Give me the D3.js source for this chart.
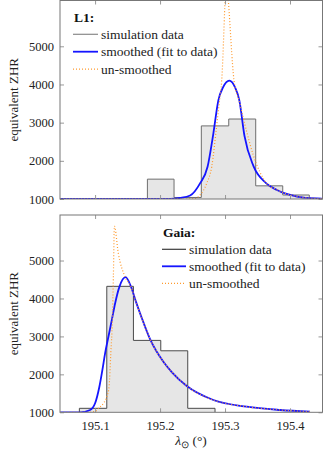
<!DOCTYPE html>
<html>
<head>
<meta charset="utf-8">
<script src="https://cdn.jsdelivr.net/npm/d3@7"></script>
<style>
  body { margin: 0; background: #fff; }
  svg text { font-family: "Liberation Serif", "Times New Roman", Times, serif; }
</style>
</head>
<body>
<div id="chart"></div>
<script>
// shared axes
const xDomain = [195.046, 195.45];
const yDomain = [1000, 6200];
const xTicks = [195.1, 195.2, 195.3, 195.4];
const yTicks = [1000, 2000, 3000, 4000, 5000];
const legendLabels = ["simulation data", "smoothed (fit to data)", "un-smoothed"];

// L1 panel
const l1Edges = [195.1805, 195.2215, 195.2635, 195.3057, 195.3472, 195.3888, 195.4297];
const l1Counts = [1520, 1040, 2915, 3095, 1345, 1105];
const l1SmoothX = [195.0462, 195.2154, 195.2308, 195.2462, 195.2615, 195.2731, 195.2820, 195.2897, 195.2969, 195.3066,
  195.3154, 195.3220, 195.3300, 195.3438, 195.3631, 195.3800, 195.4108, 195.4415, 195.4490];
const l1SmoothY = [1000, 1000, 1026, 1091, 1410, 1843, 2715, 3585, 3924, 4099,
  3924, 3585, 2645, 1862, 1418, 1235, 1065, 1013, 1008];
const l1RawX = [195.0462, 195.2385, 195.2538, 195.2615, 195.2718, 195.2795, 195.2872, 195.2915, 195.2949, 195.3000,
  195.3018, 195.3051, 195.3138, 195.3215, 195.3308, 195.3435, 195.3631, 195.3800, 195.4108, 195.4415, 195.4490];
const l1RawY = [1000, 1000, 1013, 1104, 1410, 1843, 2932, 3585, 4107, 6196,
  6950, 6196, 4107, 3585, 2932, 2149, 1430, 1240, 1066, 1013, 1008];

// Gaia panel
const gaiaEdges = [195.0758, 195.1180, 195.1590, 195.2011, 195.2426, 195.2846];
const gaiaCounts = [1105, 4320, 2895, 2621, 1105];
const gaiaSmoothX = [195.0462, 195.0769, 195.0923, 195.1000, 195.1066, 195.1112, 195.1154, 195.1205, 195.1257, 195.1308,
  195.1374, 195.1469, 195.1554, 195.1631, 195.1708, 195.1846, 195.2051, 195.2180, 195.2411, 195.2820,
  195.3334, 195.3846, 195.4308];
const gaiaSmoothY = [1000, 1000, 1061, 1237, 1674, 2113, 2553, 2990, 3429, 3869,
  4306, 4561, 4306, 3903, 3535, 2929, 2332, 2061, 1692, 1324,
  1147, 1061, 1016];
const gaiaRawX = [195.0462, 195.0892, 195.1000, 195.1051, 195.1128, 195.1185, 195.1215, 195.1242, 195.1266, 195.1282,
  195.1297, 195.1358, 195.1462, 195.1554, 195.1631, 195.1708, 195.1846, 195.2051, 195.2180, 195.2411,
  195.2820, 195.3334, 195.3846, 195.4308];
const gaiaRawY = [1000, 1000, 1021, 1105, 1237, 1429, 1674, 2553, 3429, 4614,
  5903, 5185, 4569, 4306, 3903, 3535, 2929, 2332, 2061, 1692,
  1324, 1147, 1061, 1016];

const W = 323, H = 453;
const svg = d3.select("#chart").append("svg")
  .attr("width", W).attr("height", H)
  .style("display", "block");

const x = d3.scaleLinear().domain(xDomain).range([60, 322.5]);

function drawPanel(id, top, bottom, title, edges, counts, sX, sY, rX, rY, opt) {
  const y = d3.scaleLinear().domain(yDomain).range([bottom, top]);
  const g = svg.append("g");

  g.append("clipPath").attr("id", "clip" + id)
    .append("rect").attr("x", 60).attr("y", top).attr("width", 262.5).attr("height", bottom - top);

  const plot = g.append("g").attr("clip-path", `url(#clip${id})`);

  // histogram as step outline
  const steps = [[edges[0], yDomain[0]]];
  counts.forEach((c, i) => steps.push([edges[i], c]));
  steps.push([edges[edges.length - 1], counts[counts.length - 1]]);
  steps.push([edges[edges.length - 1], yDomain[0]]);

  plot.append("path")
    .attr("d", d3.area().x(d => x(d[0])).y0(y(yDomain[0])).y1(d => y(d[1])).curve(d3.curveStepAfter)(steps))
    .attr("fill", "#e6e6e6");
  plot.append("path")
    .attr("d", d3.line().x(d => x(d[0])).y(d => y(d[1])).curve(d3.curveStepAfter)(steps))
    .attr("fill", "none").attr("stroke", opt.histStroke).attr("stroke-width", 1);

  const line = d3.line().x(d => x(d[0])).y(d => y(d[1])).curve(d3.curveMonotoneX);
  plot.append("path")
    .attr("d", line(sX.map((v, i) => [v, sY[i]])))
    .attr("fill", "none").attr("stroke", "#1515ff").attr("stroke-width", 1.8);
  plot.append("path")
    .attr("d", line(rX.map((v, i) => [v, rY[i]])))
    .attr("fill", "none").attr("stroke", "#ff9a2e").attr("stroke-width", 1.2)
    .attr("stroke-dasharray", "1,2");

  // axes with inward ticks
  const tickCol = "#999";
  const left = g.append("g").attr("transform", "translate(60,0)")
    .call(d3.axisLeft(y).tickValues(yTicks).tickFormat(d3.format("d")).tickSizeInner(-4).tickSizeOuter(0).tickPadding(6));
  const right = g.append("g").attr("transform", "translate(322.5,0)")
    .call(d3.axisRight(y).tickValues(yTicks).tickFormat("").tickSizeInner(-4).tickSizeOuter(0));
  const topAx = g.append("g").attr("transform", `translate(0,${top})`)
    .call(d3.axisTop(x).tickValues(xTicks).tickFormat("").tickSizeInner(-4).tickSizeOuter(0));
  const botAx = g.append("g").attr("transform", `translate(0,${bottom})`)
    .call(d3.axisBottom(x).tickValues(xTicks).tickFormat(opt.xLabels ? d3.format(".1f") : "")
      .tickSizeInner(-4).tickSizeOuter(0).tickPadding(9));
  [left, right, topAx, botAx].forEach(a => {
    a.attr("font-family", null);
    a.select(".domain").remove();
    a.selectAll(".tick line").attr("stroke", tickCol);
    a.selectAll("text").attr("fill", "#222").style("font-size", "12.5px");
  });

  g.append("rect")
    .attr("x", 60).attr("y", top).attr("width", 262.5).attr("height", bottom - top)
    .attr("fill", "none").attr("stroke", "#777").attr("stroke-width", 1);

  // y label
  g.append("text")
    .attr("transform", `translate(18,${(top + bottom) / 2}) rotate(-90)`)
    .attr("text-anchor", "middle")
    .style("font-size", "13px").attr("fill", "#222")
    .text("equivalent ZHR");

  // legend
  const lg = g.append("g").attr("transform", `translate(${opt.lx},${opt.ly})`);
  lg.append("text").attr("x", 1).attr("y", 0)
    .style("font-size", "13.5px").style("font-weight", "bold").attr("fill", "#111")
    .text(title);
  const styles = [
    { stroke: opt.legendGray, width: 1.2, dash: null },
    { stroke: "#1515ff", width: 1.8, dash: null },
    { stroke: "#ff9a2e", width: 1.2, dash: "1,2" }
  ];
  legendLabels.forEach((lab, i) => {
    const cy = opt.rowTop + i * opt.rowGap;
    lg.append("line").attr("x1", 0).attr("x2", opt.lineLen).attr("y1", cy).attr("y2", cy)
      .attr("stroke", styles[i].stroke).attr("stroke-width", styles[i].width)
      .attr("stroke-dasharray", styles[i].dash);
    lg.append("text").attr("x", opt.lineLen + 3).attr("y", cy + 4.5)
      .style("font-size", "13.5px").attr("fill", "#222")
      .text(lab);
  });
}

drawPanel("a", 0.5, 199, "L1:", l1Edges, l1Counts, l1SmoothX, l1SmoothY, l1RawX, l1RawY,
  { histStroke: "#6e6e6e", legendGray: "#8a8a8a", xLabels: false, lx: 73, ly: 21.5, rowTop: 12.8, rowGap: 17.4, lineLen: 25 });
drawPanel("b", 215, 412.3, "Gaia:", gaiaEdges, gaiaCounts, gaiaSmoothX, gaiaSmoothY, gaiaRawX, gaiaRawY,
  { histStroke: "#4a4a4a", legendGray: "#3a3a3a", xLabels: true, lx: 162, ly: 237, rowTop: 12.3, rowGap: 17, lineLen: 24 });

// x label
const xl = svg.append("text")
  .attr("x", 191).attr("y", 445)
  .attr("text-anchor", "middle")
  .style("font-size", "13.5px").attr("fill", "#222");
xl.append("tspan").style("font-style", "italic").text("λ");
xl.append("tspan").attr("dy", 3).style("font-size", "9.5px").text("⊙");
xl.append("tspan").attr("dy", -3).text(" (°)");
</script>
</body>
</html>
